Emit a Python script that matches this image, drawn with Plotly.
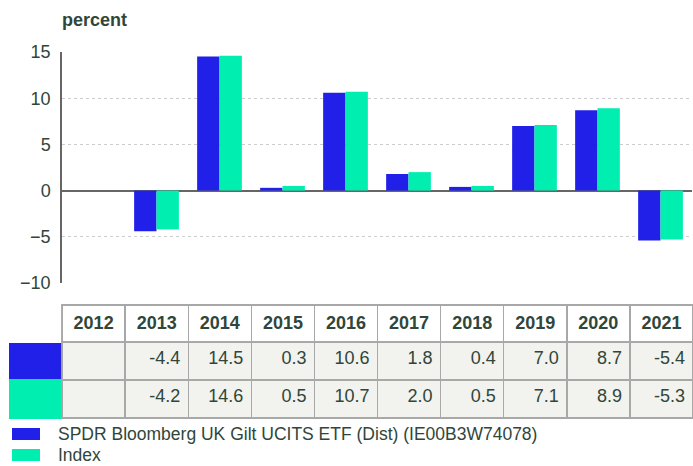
import plotly.graph_objects as go

years = ["2012", "2013", "2014", "2015", "2016", "2017", "2018", "2019", "2020", "2021"]
etf_name = "SPDR Bloomberg UK Gilt UCITS ETF (Dist) (IE00B3W74078)"
idx_name = "Index"
etf = [None, -4.4, 14.5, 0.3, 10.6, 1.8, 0.4, 7.0, 8.7, -5.4]
idx = [None, -4.2, 14.6, 0.5, 10.7, 2.0, 0.5, 7.1, 8.9, -5.3]
y_ticks = [-10, -5, 0, 5, 10, 15]

BLUE = "#2020e8"
GREEN = "#00efb0"
TXT = "#30463a"
FONT = "Liberation Sans, Arial, sans-serif"
W, H = 693, 466
FS = 18

def fmt(v):
    return "" if v is None else f"{v:.1f}"

fig = go.Figure()
fig.add_trace(go.Bar(x=years, y=etf, name=etf_name, marker=dict(color=BLUE, line=dict(width=0)), showlegend=False))
fig.add_trace(go.Bar(x=years, y=idx, name=idx_name, marker=dict(color=GREEN, line=dict(width=0)), showlegend=False))

line_grey = "#a8a8a8"
fig.add_trace(go.Table(
    domain=dict(x=[10 / W, 1.0], y=[(H - 420) / H, (H - 305) / H]),
    columnwidth=[52] + [63] * len(years),
    header=dict(
        values=[""] + [f"<b>{y}</b>" for y in years],
        fill=dict(color="white"),
        line=dict(color=["white"] + [line_grey] * len(years), width=1.5),
        font=dict(family=FONT, size=FS, color=TXT),
        align="center",
        height=37,
    ),
    cells=dict(
        values=[["", ""]] + [[fmt(a), fmt(b)] for a, b in zip(etf, idx)],
        fill=dict(color=[[BLUE, GREEN]] + [["#f2f2ee", "#f2f2ee"]] * len(years)),
        line=dict(color=[[BLUE, GREEN]] + [[line_grey, line_grey]] * len(years), width=1.5),
        font=dict(family=FONT, size=FS, color=TXT),
        align="right",
        height=38,
    ),
))

fig.update_layout(
    width=W, height=H,
    margin=dict(l=0, r=0, t=0, b=0, autoexpand=False),
    paper_bgcolor="white", plot_bgcolor="white",
    barmode="group", bargap=0.29, bargroupgap=0,
    font=dict(family=FONT, size=FS, color=TXT),
    xaxis=dict(domain=[62 / W, 692 / W], showticklabels=False, showgrid=False,
               zeroline=False, showline=False, ticks="", automargin=False),
    yaxis=dict(domain=[(H - 283) / H, (H - 52) / H], range=[-10, 15], automargin=False,
               tickvals=y_ticks, showgrid=True, gridcolor="#cccccc", griddash="dot",
               gridwidth=1, zeroline=True, zerolinecolor="#666666", zerolinewidth=1.5,
               showline=True, linecolor="#666666", linewidth=1.5,
               ticks="", ticklabelstandoff=6, tickfont=dict(size=FS, color=TXT)),
    showlegend=False,
)

fig.add_annotation(text="<b>percent</b>", xref="paper", yref="paper",
                   x=60 / W, y=(H - 20) / H, xanchor="left", yanchor="middle",
                   showarrow=False, font=dict(size=FS, color=TXT))

legend_rows = [(etf_name, BLUE, 434), (idx_name, GREEN, 455)]
for name, col, yc in legend_rows:
    fig.add_shape(type="rect", xref="paper", yref="paper",
                  x0=12 / W, x1=40 / W, y0=(H - yc - 6) / H, y1=(H - yc + 6) / H,
                  fillcolor=col, line=dict(width=0))
    fig.add_annotation(text=name, xref="paper", yref="paper",
                       x=57 / W, y=(H - yc) / H, xanchor="left", yanchor="middle",
                       borderpad=0, showarrow=False, font=dict(size=17.5, color=TXT))

fig.write_html("out.html")
